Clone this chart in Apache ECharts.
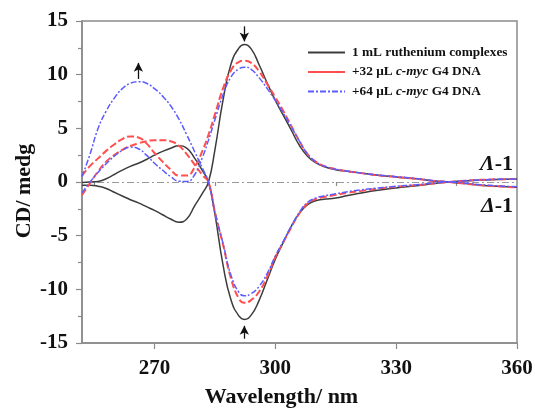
<!DOCTYPE html>
<html>
<head>
<meta charset="utf-8">
<script src="https://cdn.jsdelivr.net/npm/echarts@6/dist/echarts.min.js"></script>
<style>
  html, body { margin: 0; padding: 0; background: #fff; }
  #chart { width: 535px; height: 408px; }
</style>
</head>
<body>
<div id="chart"></div>
<script>
// Wavelength sampling (nm), shared by every spectrum
const wavelength = [252,254,256,258,260,262,264,266,268,270,272,274,276,278,280,282,283.4,285,287,289,291,292.3,294,296,298,300,302,304,306,308,310,312,315,318,321,325,330,335,340,343,347,351,355,360];

// Λ-1 spectra (positive band near 292 nm)
const lambdaBase  = [-0.3,-0.3,-0.4,-0.6,-0.95,-1.3,-1.65,-1.95,-2.3,-2.65,-3.05,-3.45,-3.75,-3.45,-2.2,-1.0,0,3.0,7.6,11.0,12.5,12.8,12.4,10.9,9.2,7.6,6.2,4.8,3.4,2.4,1.8,1.45,1.15,1.0,0.85,0.65,0.47,0.3,0.08,0,-0.15,-0.3,-0.4,-0.5];
const lambdaDna32 = [0.6,1.5,2.2,2.9,3.5,4.0,4.25,4.15,3.6,2.7,1.9,1.15,0.6,0.6,1.4,3.0,4.4,6.3,8.7,10.4,11.2,11.3,11.1,10.3,9.1,7.9,6.6,5.2,3.8,2.6,1.9,1.5,1.2,1.0,0.85,0.65,0.47,0.3,0.08,0,-0.15,-0.3,-0.4,-0.5];
const lambdaDna64 = [-1.0,0.0,0.9,1.7,2.4,2.95,3.25,3.1,2.5,1.75,1.1,0.5,0.08,0.05,0.7,2.4,3.9,5.8,8.1,9.8,10.55,10.7,10.5,9.7,8.7,7.6,6.4,5.1,3.8,2.6,1.9,1.5,1.2,1.0,0.85,0.67,0.5,0.32,0.1,0.02,-0.1,-0.25,-0.35,-0.45];

// Δ-1 spectra (negative band near 292 nm)
const deltaBase  = [-0.05,0,0.05,0.3,0.7,1.1,1.45,1.75,2.1,2.5,2.85,3.15,3.37,3.15,2.2,1.0,0,-3.0,-7.7,-11.0,-12.5,-12.8,-12.4,-11.0,-9.1,-7.2,-5.6,-4.1,-2.9,-2.1,-1.75,-1.6,-1.5,-1.25,-1.05,-0.8,-0.55,-0.35,-0.12,0,0.1,0.18,0.24,0.28];
const deltaDna32 = [-1.2,-0.1,1.0,1.9,2.5,3.0,3.35,3.6,3.8,3.9,3.9,3.8,3.4,2.6,1.6,0.6,0,-2.8,-5.8,-9.0,-10.9,-11.26,-11.0,-10.2,-8.8,-7.0,-5.6,-4.2,-2.9,-2.0,-1.6,-1.4,-1.2,-1.0,-0.85,-0.65,-0.45,-0.3,-0.1,0,0.12,0.2,0.25,0.28];
const deltaDna64 = [0.5,2.6,5.0,6.6,7.8,8.7,9.2,9.35,9.2,8.7,8.0,7.1,5.9,4.4,2.8,1.2,0,-2.8,-5.7,-8.7,-10.3,-10.6,-10.4,-9.7,-8.5,-6.9,-5.5,-4.1,-2.8,-1.9,-1.5,-1.3,-1.1,-0.9,-0.75,-0.58,-0.4,-0.26,-0.08,0,0.12,0.2,0.25,0.28];

// Series names
const seriesNames = ['1 mL ruthenium complexes', '+32 μL c-myc G4 DNA', '+64 μL c-myc G4 DNA'];

// Axis ticks
const xLabelValues = [270, 300, 330, 360];
const xMinorValues = [255, 285, 315, 345];

// Titration arrows: [wavelength, from, to]
const arrows = [[292.3, 14.5, 13.1], [266.0, 9.6, 11.1], [292.3, -14.6, -13.4]];

const SERIF = '"Liberation Serif", "Times New Roman", serif';
const AXIS_GREY = '#8a8a8a';

const styles = [
  { color: '#3c3c3c', width: 1.5, type: 'solid' },
  { color: '#ff4f4f', width: 2, type: [7, 3] },
  { color: '#5c5cff', width: 1.5, type: [6, 2, 2, 2] }
];

function pairs(vals) { return wavelength.map((w, i) => [w, vals[i]]); }

function lineSeries(nameIdx, vals, z, extra) {
  const st = styles[nameIdx];
  return Object.assign({
    type: 'line',
    name: seriesNames[nameIdx],
    data: pairs(vals),
    showSymbol: false,
    symbol: 'none',
    smooth: 0.5,
    z: z,
    lineStyle: { color: st.color, width: st.width, type: st.type },
    itemStyle: { color: st.color },
    emphasis: { disabled: true }
  }, extra || {});
}

const arrowLines = arrows.map(a => [
  { coord: [a[0], a[1]] },
  { coord: [a[0], a[2]] }
]);

const legendRich = {
  n: { fontFamily: SERIF, fontSize: 13.3, fontWeight: 'bold', color: '#111' },
  i: { fontFamily: SERIF, fontSize: 13.3, fontWeight: 'bold', fontStyle: 'italic', color: '#111' }
};

const chart = echarts.init(document.getElementById('chart'), null, { renderer: 'canvas' });

chart.setOption({
  animation: false,
  backgroundColor: '#fff',
  grid: {
    left: 82, right: 18, top: 21, bottom: 65,
    outerBoundsMode: 'none',
    show: true, borderColor: AXIS_GREY, borderWidth: 1.5, backgroundColor: 'transparent'
  },
  legend: {
    left: 302, top: 41,
    orient: 'vertical',
    itemWidth: 37, itemHeight: 14, itemGap: 6.5,
    itemStyle: { opacity: 0 },
    data: [
      { name: seriesNames[0] },
      { name: seriesNames[1], lineStyle: { type: 'solid' } },
      { name: seriesNames[2] }
    ],
    formatter: function (name) {
      const parts = name.split('c-myc');
      if (parts.length === 1) return '{n|' + name + '}';
      return '{n|' + parts[0] + '}{i|c-myc}{n|' + parts[1] + '}';
    },
    textStyle: { rich: legendRich, padding: [0, 0, 0, 2] }
  },
  xAxis: [{
    type: 'value', min: 252, max: 360,
    name: 'Wavelength/ nm', nameLocation: 'middle', nameGap: 43, nameMoveOverlap: false,
    nameTextStyle: { fontFamily: SERIF, fontSize: 22, fontWeight: 'bold', color: '#111', padding: [0, 36, 0, 0] },
    axisLine: { show: true, onZero: false, lineStyle: { color: AXIS_GREY, width: 1.5 } },
    axisTick: { show: true, inside: false, length: 6, customValues: xLabelValues, lineStyle: { color: AXIS_GREY, width: 1.2 } },
    axisLabel: { customValues: xLabelValues, fontFamily: SERIF, fontSize: 21, fontWeight: 'bold', color: '#111', margin: 15 },
    splitLine: { show: false }
  }, {
    type: 'value', min: 252, max: 360, position: 'bottom',
    axisLine: { show: false },
    axisTick: { show: true, inside: false, length: 4, customValues: xMinorValues, lineStyle: { color: AXIS_GREY, width: 1.2 } },
    axisLabel: { show: false },
    splitLine: { show: false }
  }],
  yAxis: {
    type: 'value', min: -15, max: 15, interval: 5,
    name: 'CD/ medg', nameLocation: 'middle', nameGap: 47, nameRotate: 90, nameMoveOverlap: false,
    nameTextStyle: { fontFamily: SERIF, fontSize: 22, fontWeight: 'bold', color: '#111', padding: [0, 18, 0, 0] },
    axisLine: { show: true, onZero: false, lineStyle: { color: AXIS_GREY, width: 1.5 } },
    axisTick: { show: true, inside: false, length: 6, lineStyle: { color: AXIS_GREY, width: 1.2 } },
    minorTick: { show: true, splitNumber: 2, length: 4, lineStyle: { color: AXIS_GREY, width: 1.2 } },
    axisLabel: { fontFamily: SERIF, fontSize: 21, fontWeight: 'bold', color: '#111', margin: 14 },
    splitLine: { show: false }
  },
  series: [
    lineSeries(0, lambdaBase, 3, {
      markLine: {
        silent: true, symbol: ['none', 'none'],
        label: { show: false },
        lineStyle: { color: '#9a9a9a', width: 1.2, type: [7, 3, 2, 3] },
        data: [{ yAxis: 0 }],
        z: 1
      }
    }),
    lineSeries(0, deltaBase, 3, {
      markLine: {
        silent: true, symbol: ['none', 'arrow'], symbolSize: [7, 9],
        label: { show: false },
        lineStyle: { color: '#111', width: 1.3, type: 'solid' },
        data: arrowLines
      }
    }),
    lineSeries(1, lambdaDna32, 4),
    lineSeries(1, deltaDna32, 4),
    lineSeries(2, lambdaDna64, 5),
    lineSeries(2, deltaDna64, 5)
  ],
  graphic: [
    {
      type: 'text', right: 22, top: 153,
      style: {
        text: '{g|Λ}{n|-1}',
        rich: {
          g: { fontFamily: SERIF, fontSize: 22, fontWeight: 'bold', fontStyle: 'italic', fill: '#111' },
          n: { fontFamily: SERIF, fontSize: 22, fontWeight: 'bold', fill: '#111' }
        }
      }
    },
    {
      type: 'text', right: 22, top: 195,
      style: {
        text: '{g|Δ}{n|-1}',
        rich: {
          g: { fontFamily: SERIF, fontSize: 22, fontWeight: 'bold', fontStyle: 'italic', fill: '#111' },
          n: { fontFamily: SERIF, fontSize: 22, fontWeight: 'bold', fill: '#111' }
        }
      }
    }
  ]
});
</script>
</body>
</html>
